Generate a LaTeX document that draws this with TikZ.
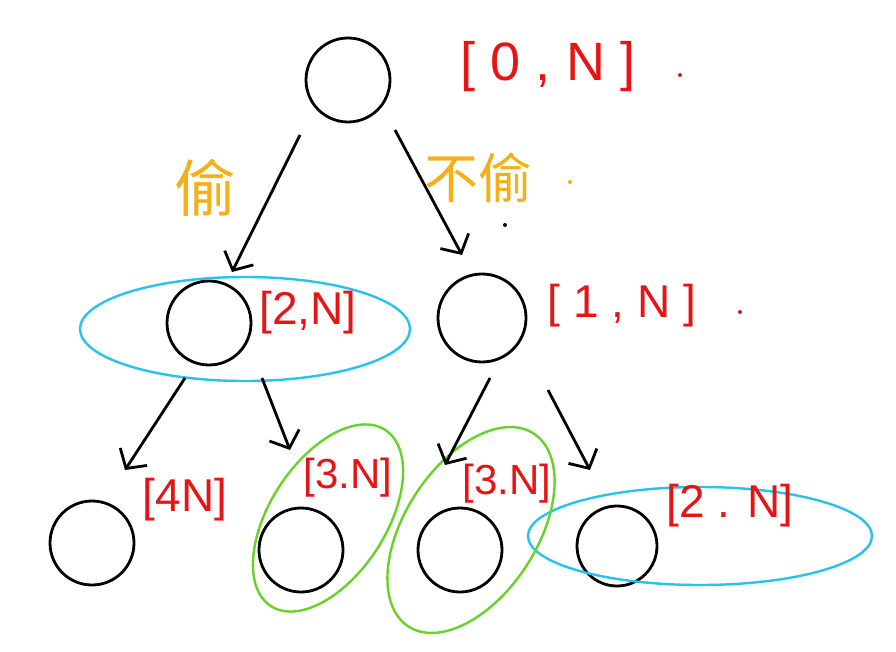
\documentclass[tikz,border=0pt]{standalone}
\usepackage{fontspec}
\setmainfont{Liberation Sans}
\newfontfamily\cjk{Noto Sans CJK SC}
\usetikzlibrary{arrows.meta}
\definecolor{redink}{RGB}{230,20,20}
\definecolor{orangeink}{RGB}{245,175,25}
\definecolor{blueink}{RGB}{40,195,235}
\definecolor{greenink}{RGB}{105,210,40}
\begin{document}
\begin{tikzpicture}[x=1pt,y=-1pt,
  state/.style={circle,draw=black,line width=2.8pt,minimum size=84pt,inner sep=0pt},
  arr/.style={line width=2.8pt,-{Straight Barb[length=14pt,width=32pt,line width=2.8pt]}},
  rng/.style={text=redink,font=\fontsize{46}{46}\selectfont,inner sep=0pt},
  cn/.style={text=orangeink,font=\cjk\fontsize{62}{62}\selectfont,inner sep=0pt},
  blueell/.style={draw=blueink,line width=2.4pt},
  greenell/.style={draw=greenink,line width=2.4pt},
  dotmark/.style={circle,inner sep=0pt,minimum size=4pt}]
\useasboundingbox (0,0) rectangle (896,652);
\fill[white] (0,0) rectangle (896,652);

% circles
\node[state] (root) at (348,80) {};
\node[state] (l) at (209,323) {};
\node[state,minimum size=88pt] (r) at (482,318) {};
\node[state] (ll) at (92,543) {};
\node[state] (lr) at (301,550) {};
\node[state] (rl) at (460,550) {};
\node[state,minimum size=80pt] (rr) at (617,546) {};

% grouping ellipses
\draw[blueell] (245,329) ellipse [x radius=165pt, y radius=52pt];
\draw[blueell] (700,536) ellipse [x radius=172pt, y radius=49pt];
\draw[greenell] (328,518) ellipse [x radius=105pt, y radius=58pt, rotate=57];
\draw[greenell] (471,530) ellipse [x radius=115pt, y radius=66pt, rotate=57];

% arrows
\coordinate (a1s) at (300,135); \coordinate (a1e) at (232,272);
\coordinate (a2s) at (395,130); \coordinate (a2e) at (462,255);
\coordinate (a3s) at (185,378); \coordinate (a3e) at (125,470);
\coordinate (a4s) at (262,378); \coordinate (a4e) at (290,450);
\coordinate (a5s) at (490,378); \coordinate (a5e) at (445,465);
\coordinate (a6s) at (548,390); \coordinate (a6e) at (590,470);
\draw[arr] (a1s) -- (a1e);
\draw[arr] (a2s) -- (a2e);
\draw[arr] (a3s) -- (a3e);
\draw[arr] (a4s) -- (a4e);
\draw[arr] (a5s) -- (a5e);
\draw[arr] (a6s) -- (a6e);

% labels
\node[rng,font=\fontsize{54}{54}\selectfont] (t0) at (548,67) {[ 0 , N ]};
\node[dotmark,fill=redink] (d0) at (680,75) {};
\node[cn] (steal) at (205,188) {偷};
\node[cn,font=\cjk\fontsize{54}{54}\selectfont] (nosteal) at (478,178) {不偷};
\node[dotmark,fill=orangeink] (d1) at (570,182) {};
\node[dotmark,fill=black] (d2) at (505,225) {};
\node[rng] (t2) at (308,313) {[2,N]};
\node[rng] (t1) at (622,306) {[ 1 , N ]};
\node[dotmark,fill=redink] (d3) at (740,312) {};
\node[rng] (t4) at (185,500) {[4N]};
\node[rng,font=\fontsize{42}{42}\selectfont] (t3a) at (348,478) {[3.N]};
\node[rng,font=\fontsize{42}{42}\selectfont] (t3b) at (507,484) {[3.N]};
\node[rng] (t2b) at (730,506) {[2 . N]};
\end{tikzpicture}
\end{document}
